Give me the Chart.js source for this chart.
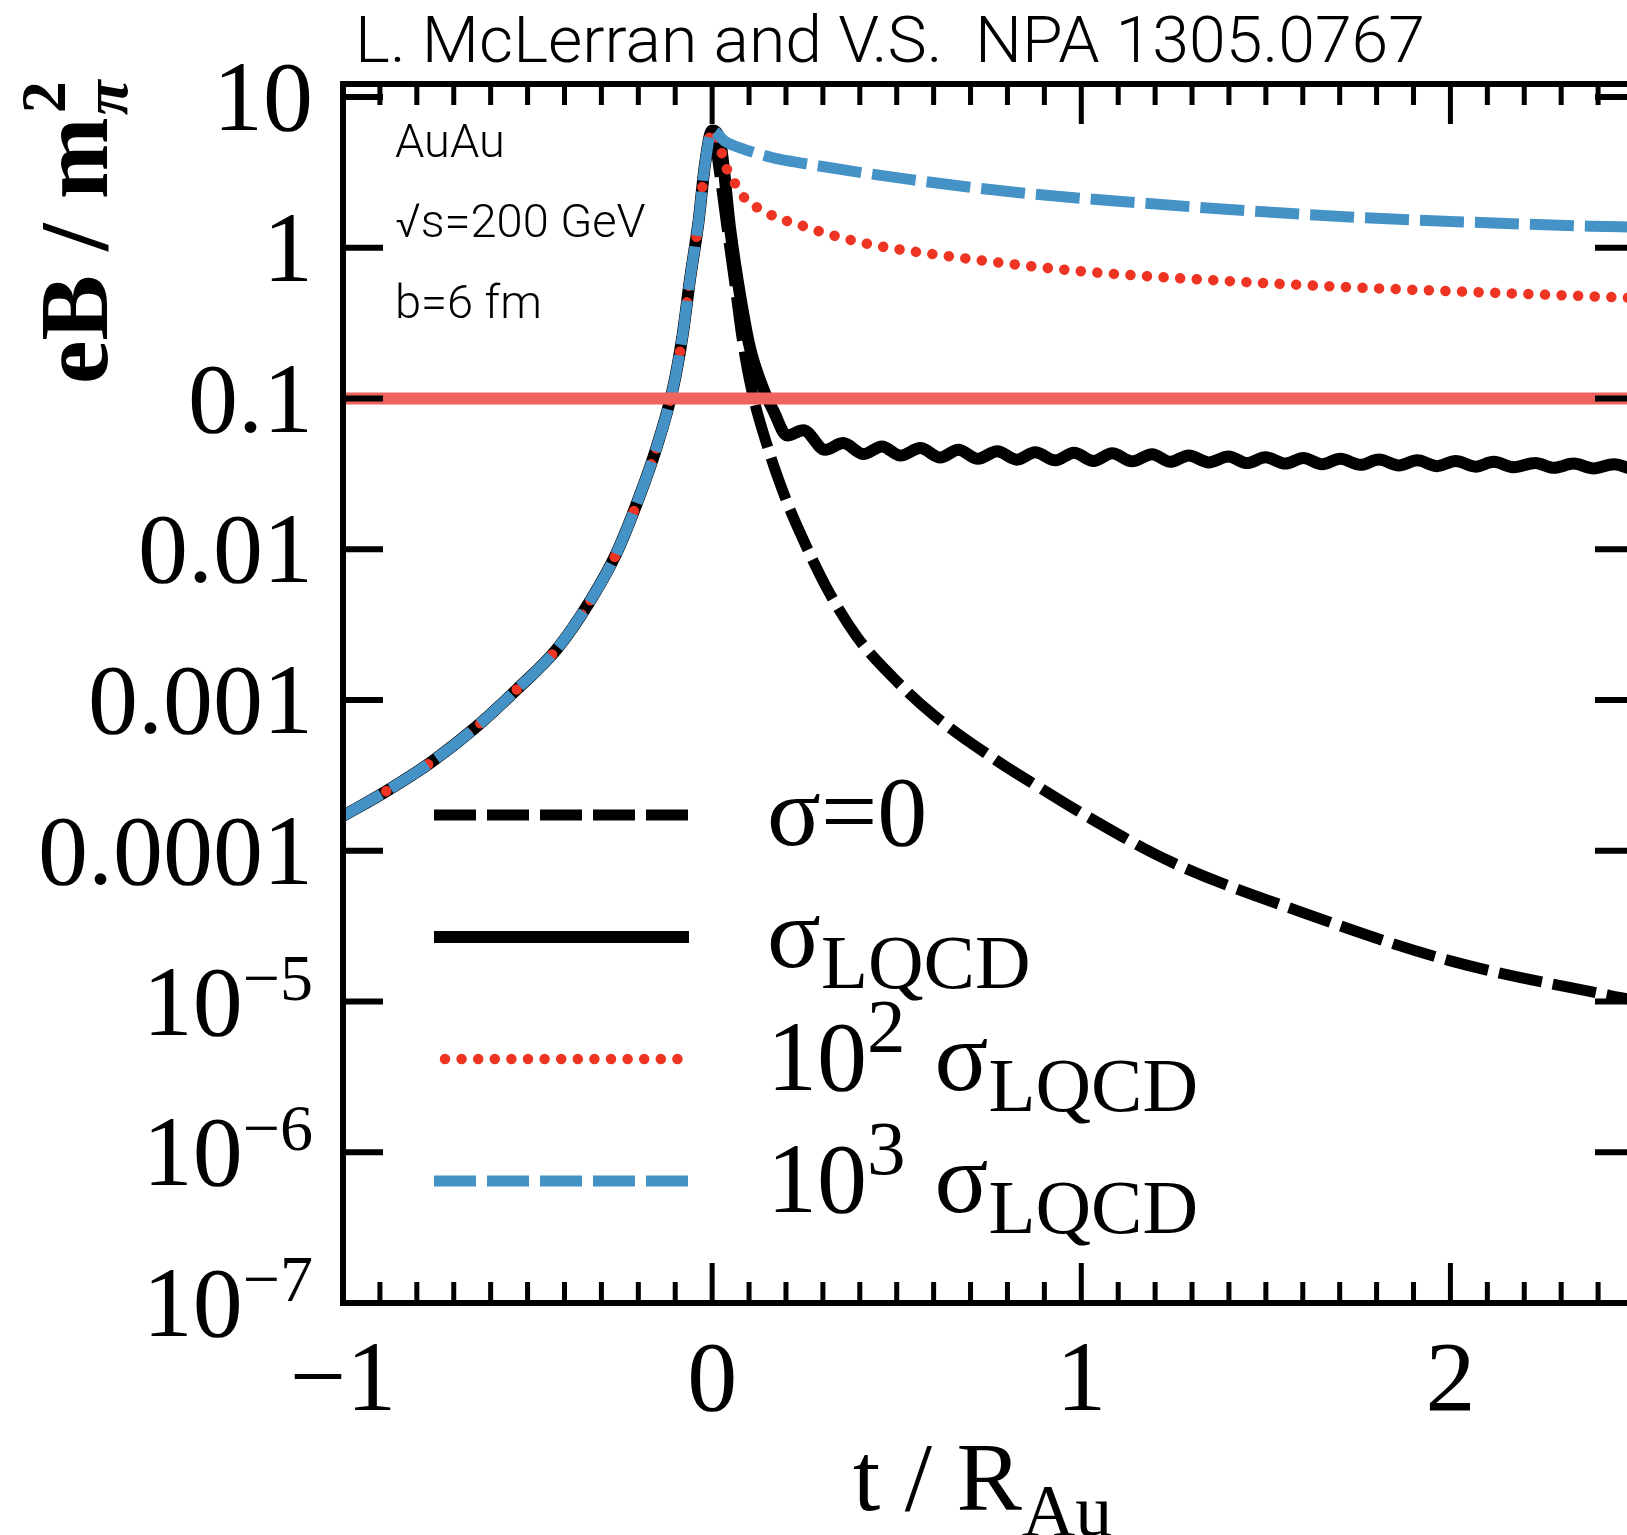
<!DOCTYPE html>
<html><head><meta charset="utf-8">
<script src="https://cdn.jsdelivr.net/npm/chart.js@4/dist/chart.umd.min.js"></script>
<style>
html,body{margin:0;padding:0;overflow:hidden;background:#fff;width:1627px;height:1535px}
#wrap{position:absolute;left:0;top:0;width:1650px;height:1535px}
</style>
</head><body><div id="wrap"><canvas id="c" width="1650" height="1535"></canvas></div>
<script>
// ---------- data ----------
// common rising branch (t < 0), identical for all conductivities
const riseT = [-1, -0.88, -0.76, -0.64, -0.53, -0.42, -0.33, -0.26, -0.2, -0.15, -0.105, -0.08, -0.06, -0.037, -0.019, 0];
const riseB = [1.70e-4, 2.51e-4, 3.89e-4, 6.61e-4, 1.17e-3, 2.19e-3, 4.57e-3, 9.33e-3, 0.0214, 0.0479, 0.120, 0.263, 0.617, 1.48, 3.63, 6.0];
// sigma = 0 (t > 0)
const sigma0T = [0.02, 0.04, 0.06, 0.08, 0.105, 0.15, 0.2, 0.238, 0.311, 0.392, 0.49, 0.6, 0.77, 0.88, 1.0, 1.24, 1.6, 2.0, 2.43, 2.5];
const sigma0B = [3.16, 1.38, 0.617, 0.263, 0.120, 0.0479, 0.0214, 0.0129, 0.00550, 0.00263, 0.00141, 7.94e-4, 3.98e-4, 2.69e-4, 1.78e-4, 8.51e-5, 3.89e-5, 1.86e-5, 1.10e-5, 1.02e-5];
// sigma_LQCD (t > 0)
const lqcdT = [0.022, 0.049, 0.076, 0.103, 0.139, 0.166, 0.203, 0.247, 0.306, 0.355, 0.41, 0.46, 0.51, 0.564, 0.618, 0.667, 0.72, 0.772, 0.826, 0.875, 0.93, 0.98, 1.033, 1.084, 1.138, 1.192, 1.241, 1.291, 1.345, 1.399, 1.449, 1.499, 1.553, 1.602, 1.652, 1.702, 1.756, 1.806, 1.86, 1.91, 1.964, 2.014, 2.068, 2.117, 2.172, 2.23, 2.28, 2.334, 2.388, 2.443, 2.49];
const lqcdB = [5.0, 1.32, 0.479, 0.214, 0.115, 0.083, 0.0569, 0.0617, 0.0457, 0.0506, 0.0428, 0.0481, 0.0418, 0.0469, 0.0406, 0.0457, 0.0398, 0.0447, 0.0393, 0.0440, 0.0389, 0.0437, 0.0385, 0.0433, 0.0383, 0.0427, 0.0380, 0.0419, 0.0377, 0.0412, 0.0373, 0.0407, 0.0370, 0.0403, 0.0366, 0.0398, 0.0363, 0.0394, 0.0360, 0.0389, 0.0356, 0.0385, 0.0353, 0.0380, 0.0350, 0.0374, 0.0347, 0.0370, 0.0344, 0.0366, 0.0340];
// 10^2 sigma_LQCD (t > 0)
const lqcd100T = [0.017, 0.044, 0.071, 0.094, 0.135, 0.171, 0.216, 0.257, 0.297, 0.338, 0.431, 0.653, 0.996, 1.353, 1.668, 1.996, 2.468, 2.5];
const lqcd100B = [4.95, 3.14, 2.49, 2.04, 1.79, 1.60, 1.47, 1.37, 1.27, 1.19, 1.05, 0.871, 0.700, 0.610, 0.556, 0.516, 0.467, 0.463];
// 10^3 sigma_LQCD (t > 0)
const lqcd1000T = [0.035, 0.089, 0.166, 0.238, 0.539, 0.839, 1.153, 1.468, 1.768, 2.082, 2.382, 2.5];
const lqcd1000B = [5.08, 4.48, 3.95, 3.66, 2.83, 2.31, 1.99, 1.75, 1.58, 1.47, 1.39, 1.37];
// reference level at eB = 0.1 m_pi^2
const bandT = [-1, 2.5];
const bandB = [0.1, 0.1];
// ticks
const xTicks = [-1, 0, 1, 2];
const xTickLabels = ['\u22121', '0', '1', '2'];
const yTicks = [1e-7, 1e-6, 1e-5, 1e-4, 1e-3, 1e-2, 0.1, 1, 10];
const yTickLabels = ['10^{\u22127}', '10^{\u22126}', '10^{\u22125}', '0.0001', '0.001', '0.01', '0.1', '1', '10'];
const legendLabels = ['\u03c3=0', '\u03c3_{LQCD}', '10^{2} \u03c3_{LQCD}', '10^{3} \u03c3_{LQCD}'];
const notes = ['AuAu', '\u221as=200 GeV', 'b=6 fm'];
const titleText = 'L. McLerran and V.S.  NPA 1305.0767';
const xTitle = 't / R_{Au}';

// ---------- helpers ----------
const SERIF = '"Liberation Serif","Times New Roman",serif';
const SANS = 'Roboto,"Liberation Sans",Arial,sans-serif';
const pts = (t, b) => t.map((x, i) => ({x: x, y: b[i]}));
const curve = (t, b) => pts(riseT.concat(t), riseB.concat(b));

function parseRich(s) {
  const re = /([\^_])\{([^}]*)\}|([^\^_]+)/g; let m; const out = [];
  while ((m = re.exec(s))) {
    if (m[3] !== undefined) out.push({text: m[3], kind: 'n'});
    else out.push({text: m[2], kind: m[1] === '^' ? 'sup' : 'sub'});
  }
  return out;
}
function drawRich(ctx, s, x, y, o) {
  const segs = parseRich(s);
  const font = (g) => `${o.weight || 'normal'} ${g.kind === 'n' ? o.size : o.small}px ${o.family}`;
  const widths = segs.map(g => { ctx.font = font(g); return ctx.measureText(g.text).width; });
  const total = widths.reduce((a, b) => a + b, 0);
  let cx = o.align === 'right' ? x - total : (o.align === 'center' ? x - total / 2 : x);
  ctx.textAlign = 'left'; ctx.textBaseline = 'alphabetic';
  segs.forEach((g, i) => {
    ctx.font = font(g);
    const dy = g.kind === 'sup' ? o.supDy : (g.kind === 'sub' ? o.subDy : 0);
    ctx.fillText(g.text, cx, y + dy);
    cx += widths[i] + (g.kind === 'sup' ? (o.supGap || 0) : 0);
  });
}

const COL_BLUE = '#4592C6', COL_RED = '#EE3524', COL_BAND = '#F0625D';
const common = {pointRadius: 0, fill: false, cubicInterpolationMode: 'monotone', borderJoinStyle: 'round'};

const datasets = [
  Object.assign({label: 'band', data: pts(bandT, bandB), borderColor: COL_BAND, borderWidth: 12, order: 0}, common, {cubicInterpolationMode: 'default'}),
  Object.assign({label: '10^3 sigma', data: curve(lqcd1000T, lqcd1000B), borderColor: COL_BLUE, borderWidth: 11, borderDash: [44, 11], order: 1}, common),
  Object.assign({label: '10^2 sigma', data: curve(lqcd100T, lqcd100B), borderColor: COL_RED, borderWidth: 10.5, borderDash: [0.001, 16.6], borderCapStyle: 'round', order: 2}, common),
  Object.assign({label: 'sigma', data: curve(lqcdT, lqcdB), borderColor: '#000', borderWidth: 12, order: 3}, common),
  Object.assign({label: 'sigma0', data: curve(sigma0T, sigma0B), borderColor: '#000', borderWidth: 11, borderDash: [44, 11], order: 4}, common)
];
const legendOrder = [4, 3, 2, 1];

const decor = {
  id: 'decor',
  afterDraw(chart) {
    const ctx = chart.ctx, a = chart.chartArea;
    const xs = chart.scales.x, ys = chart.scales.y;
    ctx.save();
    ctx.fillStyle = '#000'; ctx.strokeStyle = '#000';
    // frame
    ctx.lineWidth = 6; ctx.lineCap = 'square';
    ctx.strokeRect(a.left, a.top, a.right - a.left, a.bottom - a.top);
    ctx.lineCap = 'butt';
    // x ticks (minor every 0.1, major at integers), top and bottom, inward
    ctx.lineWidth = 5;
    for (let i = Math.round(xs.min * 10); i <= Math.round(xs.max * 10); i++) {
      const px = xs.getPixelForValue(i / 10);
      const L = (i % 10 === 0) ? 40 : 21;
      ctx.beginPath();
      ctx.moveTo(px, a.bottom); ctx.lineTo(px, a.bottom - L);
      ctx.moveTo(px, a.top); ctx.lineTo(px, a.top + L);
      ctx.stroke();
    }
    // y ticks at decades, left and right, inward
    ctx.lineWidth = 6;
    yTicks.forEach(v => {
      const py = ys.getPixelForValue(v);
      ctx.beginPath();
      ctx.moveTo(a.left, py); ctx.lineTo(a.left + 40, py);
      ctx.moveTo(a.right, py); ctx.lineTo(a.right - 40, py);
      ctx.stroke();
    });
    // y tick labels
    yTicks.forEach((v, i) => {
      const py = ys.getPixelForValue(v);
      drawRich(ctx, yTickLabels[i], 313, py + 33, {size: 100, small: 66, supDy: -35, subDy: 20, family: SERIF, align: 'right'});
    });
    // x tick labels
    xTicks.forEach((v, i) => {
      drawRich(ctx, xTickLabels[i], xs.getPixelForValue(v), 1410, {size: 100, small: 66, supDy: -35, subDy: 20, family: SERIF, align: 'center'});
    });
    // x title
    drawRich(ctx, xTitle, 853, 1510, {size: 98, small: 74, supDy: -35, subDy: 26, family: SERIF, align: 'left'});
    // y title (rotated)
    ctx.save();
    ctx.translate(107, 384); ctx.rotate(-Math.PI / 2);
    ctx.font = `bold 98px ${SERIF}`; ctx.textAlign = 'left'; ctx.textBaseline = 'alphabetic';
    const mainY = 'eB / m';
    ctx.fillText(mainY, 0, 0);
    const w = ctx.measureText(mainY).width;
    ctx.font = `bold 64px ${SERIF}`;
    ctx.fillText('2', w + 4, -42);
    ctx.font = `italic bold 64px ${SERIF}`;
    ctx.fillText('\u03c0', w + 2, 20);
    ctx.restore();
    // title (fit to width)
    ctx.save();
    ctx.font = `300 64px ${SANS}`; ctx.textAlign = 'left'; ctx.textBaseline = 'alphabetic';
    const tw = ctx.measureText(titleText).width;
    ctx.translate(355, 62); ctx.scale(1070 / tw, 1);
    ctx.fillText(titleText, 0, 0);
    ctx.restore();
    // notes
    ctx.font = `300 47px ${SANS}`; ctx.textAlign = 'left'; ctx.textBaseline = 'alphabetic';
    const noteY = [157, 237, 318];
    notes.forEach((n, i) => ctx.fillText(n, 395, noteY[i]));
    // legend
    const legY = [815, 937, 1059, 1181];
    const labY = [845, 967, 1090, 1212];
    legendOrder.forEach((di, k) => {
      const ds = chart.data.datasets[di];
      ctx.save();
      ctx.strokeStyle = ds.borderColor; ctx.lineWidth = ds.borderWidth;
      ctx.lineCap = ds.borderCapStyle || 'butt';
      ctx.setLineDash(ds.borderDash ? (ds.borderCapStyle === 'round' ? ds.borderDash : [42, 11]) : []);
      ctx.beginPath();
      const x0 = ds.borderCapStyle === 'round' ? 445 : 434;
      const x1 = ds.borderCapStyle === 'round' ? 684 : 689;
      ctx.moveTo(x0, legY[k]); ctx.lineTo(x1, legY[k]); ctx.stroke();
      ctx.restore();
      drawRich(ctx, legendLabels[k], 767, labY[k], {size: 100, small: 77, supDy: -38, subDy: 21, supGap: 4, family: SERIF, align: 'left'});
    });
    ctx.restore();
  }
};

new Chart(document.getElementById('c'), {
  type: 'line',
  data: {datasets: datasets},
  options: {
    responsive: false, devicePixelRatio: 1, animation: false, events: [],
    layout: {padding: {left: 343, right: 15, top: 84, bottom: 232}},
    plugins: {legend: {display: false}, tooltip: {enabled: false}, title: {display: false}},
    scales: {
      x: {type: 'linear', min: -1, max: 2.5, grid: {display: false}, border: {display: false}, ticks: {display: false}, afterFit: s => { s.height = 0; }},
      y: {type: 'logarithmic', min: 1e-7, max: 12.2, grid: {display: false}, border: {display: false}, ticks: {display: false}, afterFit: s => { s.width = 0; }}
    }
  },
  plugins: [decor]
});
</script>
</body></html>
